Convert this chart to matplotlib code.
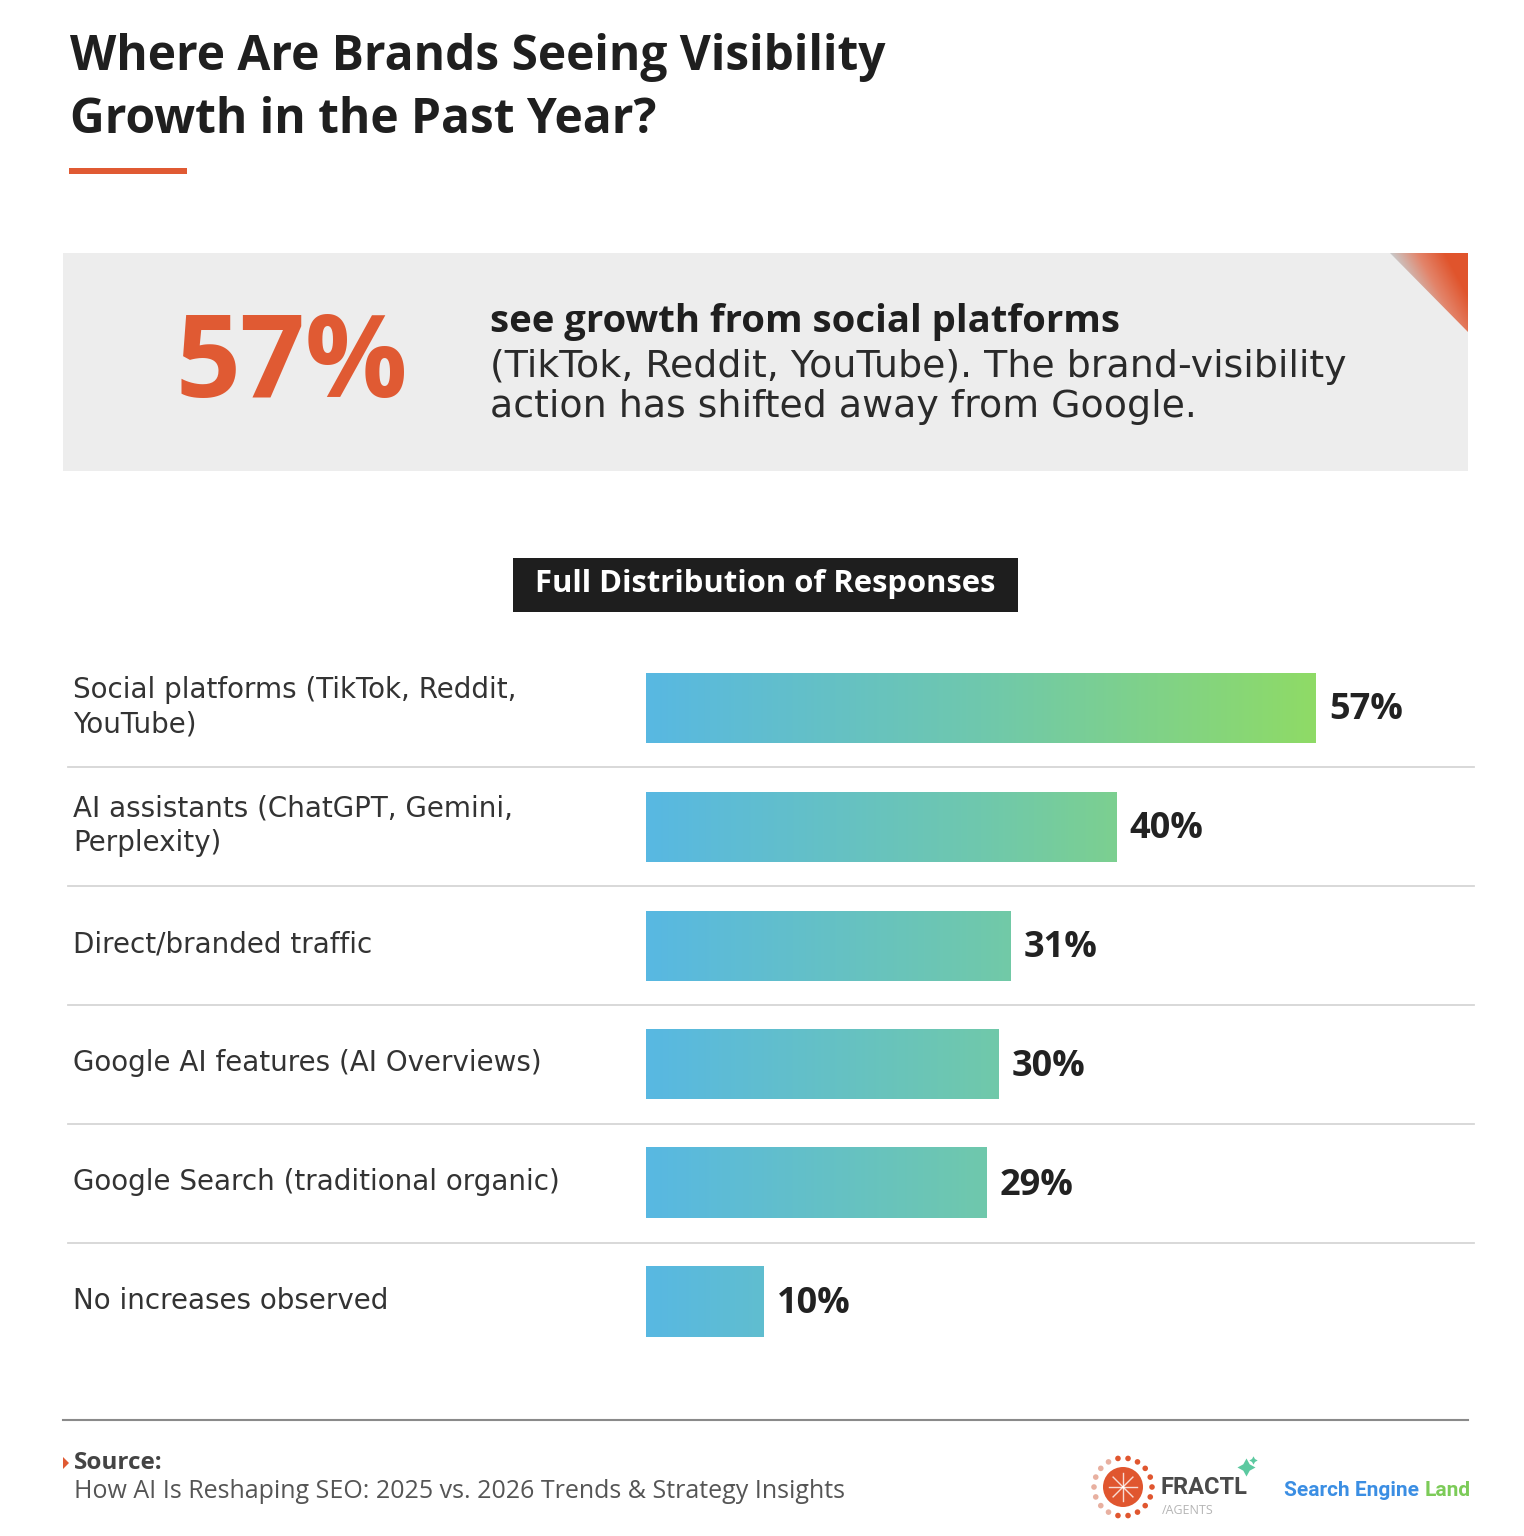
import numpy as np
import matplotlib
matplotlib.use("Agg")
import matplotlib.pyplot as plt
from matplotlib.colors import LinearSegmentedColormap
from matplotlib.patches import Rectangle, Polygon, Circle
from matplotlib.transforms import blended_transform_factory

# data
categories = [
    "Social platforms (TikTok, Reddit,\nYouTube)",
    "AI assistants (ChatGPT, Gemini,\nPerplexity)",
    "Direct/branded traffic",
    "Google AI features (AI Overviews)",
    "Google Search (traditional organic)",
    "No increases observed",
]
values = [57, 40, 31, 30, 29, 10]
value_labels = ["57%", "40%", "31%", "30%", "29%", "10%"]

title = "Where Are Brands Seeing Visibility\nGrowth in the Past Year?"
callout_num = "57%"
callout_bold = "see growth from social platforms"
callout_rest = "(TikTok, Reddit, YouTube). The brand-visibility\naction has shifted away from Google."
chart_tag = "Full Distribution of Responses"
source_head = "Source:"
source_text = "How AI Is Reshaping SEO: 2025 vs. 2026 Trends & Strategy Insights"

W, H = 1524, 1536
RED = "#E05A33"
FONT = ["Open Sans", "DejaVu Sans"]
WIDE = ["DejaVu Sans"]

fig = plt.figure(figsize=(W / 100, H / 100), dpi=100)
fig.patch.set_facecolor("white")

# page layer in pixel coords
bg = fig.add_axes([0, 0, 1, 1])
bg.set_xlim(0, W)
bg.set_ylim(H, 0)
bg.axis("off")

bg.text(70, 89, title, fontsize=34.5, fontweight="bold", color="#1f1f1f",
        family=FONT, va="center", ha="left", linespacing=1.36)
bg.add_patch(Rectangle((69, 168), 118, 6, color=RED, lw=0))

# callout box
bg.add_patch(Rectangle((63, 253), 1405, 218, color="#ededed", lw=0))
yy, xx = np.mgrid[253:332, 1390:1468]
t = 0.6 * ((xx - 1390) - (yy - 253)) / 78.0 + 0.5 * (xx - 1390) / 78.0
t = np.clip(t * 1.3, 0, 1)
cmap_tri = LinearSegmentedColormap.from_list("tri", ["#c9c9c9", "#e3846a", "#e0542c"])
im = bg.imshow(t, cmap=cmap_tri, extent=(1390, 1468, 332, 253), origin="upper",
               vmin=0, vmax=1, interpolation="bilinear", aspect="auto", zorder=2)
tri = Polygon([(1390, 253), (1468, 253), (1468, 332)], closed=True,
              transform=bg.transData, facecolor="none", edgecolor="none")
bg.add_patch(tri)
im.set_clip_path(tri)
bg.set_xlim(0, W)
bg.set_ylim(H, 0)

bg.text(292, 368, callout_num, fontsize=82, fontweight="bold", color=RED,
        family=FONT, ha="center", va="center")
bg.text(490, 322, callout_bold, fontsize=27.5, fontweight="bold", color="#1f1f1f",
        family=FONT, ha="left", va="center")
bg.text(490, 387, callout_rest, fontsize=27.3, color="#2a2a2a",
        family=WIDE, ha="left", va="center", linespacing=1.12)

# chart tag
bg.add_patch(Rectangle((513, 558), 505, 54, color="#1e1e1e", lw=0))
bg.text(765.5, 584, chart_tag, fontsize=22.3, fontweight="bold", color="white",
        family=FONT, ha="center", va="center")

# bar chart
x_left, x_right = 646, 1474
y_top, y_bot = 648.6, 1361.4
ax = fig.add_axes([x_left / W, 1 - y_bot / H, (x_right - x_left) / W, (y_bot - y_top) / H])
px_per_unit = (1316 - 646) / 57.0
ax.axis("off")

cmap_bar = LinearSegmentedColormap.from_list("bar", ["#58b8e2", "#6fc8ad", "#8fdb66"])
vmax = max(values)
bar_h = 70 / 118.8
grad = np.linspace(0, 1, 256).reshape(1, -1)
for i, v in enumerate(values):
    ax.imshow(grad * (v / vmax), cmap=cmap_bar, vmin=0, vmax=1, aspect="auto",
              extent=(0, v, i + bar_h / 2, i - bar_h / 2), interpolation="bilinear")
    ax.text(v + 13 / px_per_unit, i + 0.02, value_labels[i], fontsize=26, fontweight="bold",
            color="#222222", family=FONT, ha="left", va="center")
ax.set_xlim(0, (x_right - x_left) / px_per_unit)
ax.set_ylim(len(values) - 0.5, -0.5)

tr = blended_transform_factory(fig.transFigure, ax.transData)
for i, lab in enumerate(categories):
    ax.text(73 / W, i - 0.01, lab, transform=tr, fontsize=20, color="#333333",
            family=WIDE, ha="left", va="center", linespacing=1.3)
for i in range(len(values) - 1):
    ax.plot([68 / W, 1474 / W], [i + 0.5, i + 0.5], transform=tr, color="#d6d6d6",
            lw=1.3, clip_on=False)

# footer
bg.plot([63, 1468], [1420, 1420], color="#8a8a8a", lw=1.5)
bg.add_patch(Polygon([(63, 1457), (63, 1469), (69, 1463)], closed=True, color=RED, lw=0))
bg.text(74, 1463, source_head, fontsize=17.5, fontweight="bold", color="#444444",
        family=FONT, ha="left", va="center")
bg.text(74, 1492, source_text, fontsize=18, color="#555555",
        family=FONT, ha="left", va="center")

# FRACTL mark
cx, cy = 1123, 1487
bg.add_patch(Circle((cx, cy), 20, color="#e0562f", lw=0))
for a in np.linspace(0, 2 * np.pi, 8, endpoint=False):
    bg.plot([cx, cx + 14 * np.cos(a)], [cy, cy + 14 * np.sin(a)], color="white", lw=1, alpha=0.8)
for a in np.linspace(0, 2 * np.pi, 18, endpoint=False):
    col = "#e0562f" if np.cos(a) > -0.3 else "#e8b0a0"
    bg.add_patch(Circle((cx + 29 * np.cos(a), cy + 29 * np.sin(a)), 2.8, color=col, lw=0))
bg.text(1160, 1488, "FRACTL", fontsize=17, fontweight="bold", color="#4a4a4a",
        family=["Roboto", "DejaVu Sans"], ha="left", va="center")
bg.text(1162, 1510, "/AGENTS", fontsize=9, color="#b5b5b5",
        family=FONT, ha="left", va="center")
bg.plot([1246], [1467], marker=(4, 1, 0), ms=13, color="#5cc9a0", mew=0)
bg.plot([1253], [1460], marker=(4, 1, 0), ms=6, color="#5cc9a0", mew=0)

# Search Engine Land mark
t1 = bg.text(1284, 1490, "Search Engine ", fontsize=15, fontweight="bold", color="#3b8ee3",
             family=["Roboto", "DejaVu Sans"], ha="left", va="center")
bg.annotate("Land", xycoords=t1, xy=(1, 0.5), va="center", ha="left",
            fontsize=15, fontweight="bold", color="#7ccb58",
            family=["Roboto", "DejaVu Sans"])

fig.savefig("out.png", dpi=100, facecolor="white")
